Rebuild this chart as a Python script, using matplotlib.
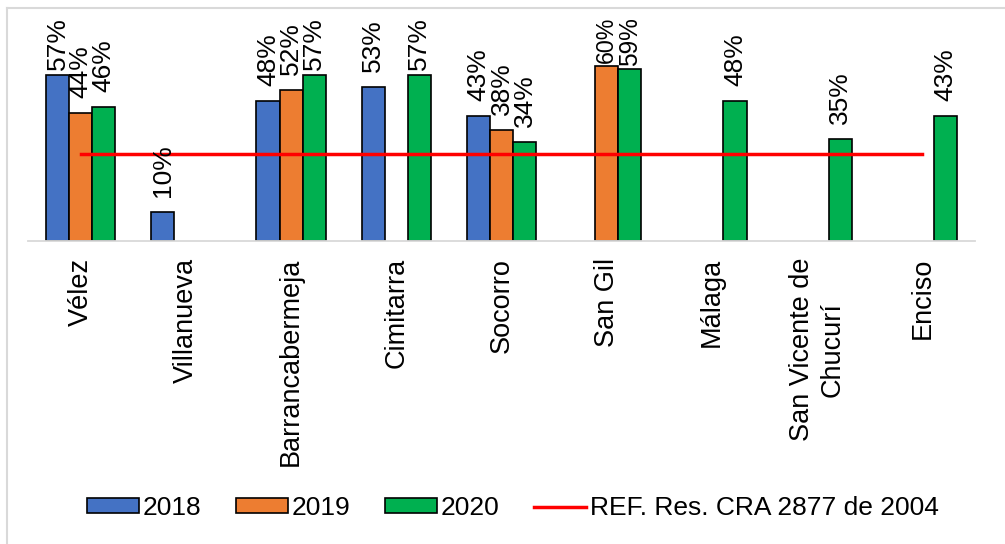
import numpy as np
import matplotlib
matplotlib.use("Agg")
import matplotlib.pyplot as plt
from matplotlib.lines import Line2D

plt.rcParams['font.family'] = ['Liberation Sans', 'DejaVu Sans']

categories = ["Vélez", "Villanueva", "Barrancabermeja", "Cimitarra", "Socorro",
              "San Gil", "Málaga", "San Vicente de\nChucurí", "Enciso"]
s2018 = [0.57, 0.10, 0.48, 0.53, 0.43, None, None, None, None]
s2019 = [0.44, None, 0.52, None, 0.38, 0.60, None, None, None]
s2020 = [0.46, None, 0.57, 0.57, 0.34, 0.59, 0.48, 0.35, 0.43]
ref = [0.30] * 9
series_names = ["2018", "2019", "2020"]
ref_name = "REF. Res. CRA 2877 de 2004"
colors = ["#4472C4", "#ED7D31", "#00B050"]

W, H = 1005, 544
fig = plt.figure(figsize=(W / 100, H / 100), dpi=100)
ax = fig.add_axes([28 / W, (H - 241) / H, 947 / W, 233 / H])

x = np.arange(len(categories))
bw = 0.219
LFS = 19
GAP = 15  # px between bar top and label
labels = []
for i, (vals, c) in enumerate(zip([s2018, s2019, s2020], colors)):
    xs = [xi + (i - 1) * bw for xi, v in zip(x, vals) if v is not None]
    vs = [v for v in vals if v is not None]
    ax.bar(xs, vs, width=bw, color=c, edgecolor="black", linewidth=1.2, zorder=2)
    for xx, vv in zip(xs, vs):
        t = ax.annotate(f"{vv*100:.0f}%", (xx, vv), xytext=(0, GAP * 0.72),
                        textcoords="offset points", rotation=90,
                        ha="center", va="bottom", fontsize=LFS, zorder=4)
        labels.append((t, xx, vv))

ax.plot(x, ref, color="#FF0000", linewidth=2.5, zorder=3)

ax.set_xlim(-0.5, len(categories) - 0.5)
ax.set_ylim(0, 0.8)
ax.set_yticks([])
ax.set_xticks(x)
ax.set_xticklabels(categories, rotation=90, fontsize=19.5, ha="center", va="top",
                   multialignment="center")
ax.tick_params(axis="x", length=0, pad=12)
for s in ["top", "right", "left"]:
    ax.spines[s].set_visible(False)
ax.spines["bottom"].set_color("#d9d9d9")
ax.spines["bottom"].set_linewidth(1.3)
ax.set_facecolor("none")

# keep labels inside chart area (like Excel)
fig.canvas.draw()
r = fig.canvas.get_renderer()
limit = H - 17
for t, xx, vv in labels:
    bb = t.get_window_extent(r)
    if bb.y1 > limit:
        bar_top = ax.transData.transform((xx, vv))[1]
        length = bb.height
        bottom = limit - length
        if bottom < bar_top + 3:
            avail = limit - (bar_top + 3)
            t.set_fontsize(LFS * avail / length)
            bottom = bar_top + 3
        t.xyann = (0, (bottom - bar_top) * 0.72)

handles = [plt.Rectangle((0, 0), 1, 1, facecolor=c, edgecolor="black", linewidth=1.2)
           for c in colors]
handles.append(Line2D([0], [0], color="#FF0000", linewidth=2.5))
fig.legend(handles, series_names + [ref_name], loc="center",
           bbox_to_anchor=(0.51, (H - 508) / H), ncol=4, frameon=False,
           fontsize=19, handlelength=2.0, handleheight=0.5, handletextpad=0.12,
           columnspacing=1.3)

# chart area border (left & top)
fig.add_artist(Line2D([6.5 / W, 6.5 / W], [0, (H - 8) / H], color="#d9d9d9",
                      linewidth=1.5, transform=fig.transFigure))
fig.add_artist(Line2D([6.5 / W, 1], [(H - 8) / H, (H - 8) / H], color="#d9d9d9",
                      linewidth=1.5, transform=fig.transFigure))

fig.savefig("out.png", dpi=100)
